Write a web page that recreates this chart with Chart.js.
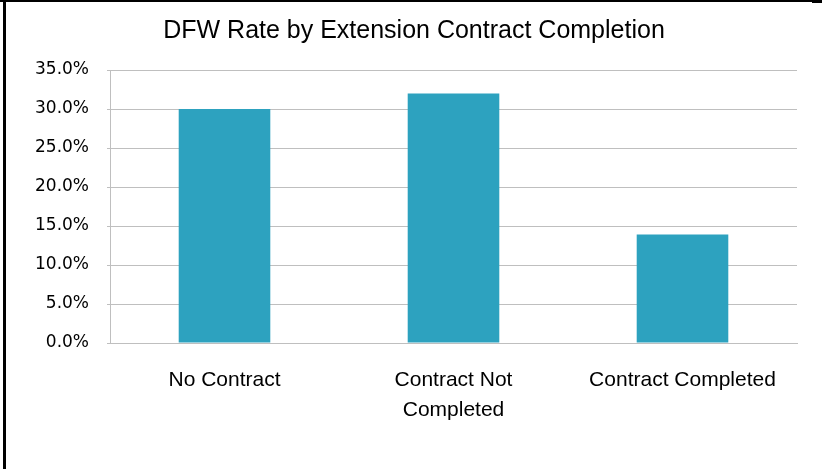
<!DOCTYPE html>
<html>
<head>
<meta charset="utf-8">
<script src="https://cdn.jsdelivr.net/npm/chart.js@4/dist/chart.umd.min.js"></script>
<style>
  html, body { margin: 0; padding: 0; background: #fff; }
  #wrap { position: relative; width: 822px; height: 469px; overflow: hidden; }
  #frameLeft { position: absolute; left: 3px; top: 0; width: 3px; height: 469px; background: #000; }
  #frameTop { position: absolute; left: 0; top: 0; width: 812px; height: 2px; background: #000; }
  #frameCorner { position: absolute; left: 812px; top: 0; width: 10px; height: 3px; background: #000; }
  canvas { position: absolute; left: 0; top: 0; }
</style>
</head>
<body>
<div id="wrap">
  <canvas id="chart" width="822" height="469"></canvas>
  <div id="frameLeft"></div>
  <div id="frameTop"></div>
  <div id="frameCorner"></div>
</div>
<script>
// DFW rate (percent) for each extension-contract group
const categories = [['No Contract'], ['Contract Not', 'Completed'], ['Contract Completed']];
const dfwRate = [30.0, 32.0, 13.9];
const yTickValues = [0, 5, 10, 15, 20, 25, 30, 35];

const gridColor = '#bfbfbf';
const barColor = '#2DA2BF';
const labelFont = "'Liberation Sans', Arial, sans-serif";

// Center the title over the whole canvas rather than the padded layout box
const centerTitle = {
  id: 'centerTitle',
  afterLayout(chart) {
    const tb = chart.titleBlock;
    if (tb) { tb.left = 6; tb.right = 822; }
  }
};

new Chart(document.getElementById('chart'), {
  type: 'bar',
  data: {
    labels: categories,
    datasets: [{
      data: dfwRate,
      backgroundColor: barColor,
      borderWidth: 0,
      barPercentage: 0.4,
      categoryPercentage: 1.0
    }]
  },
  plugins: [centerTitle],
  options: {
    responsive: false,
    animation: false,
    layout: { padding: { left: 0, right: 25, top: 0, bottom: 0 } },
    plugins: {
      legend: { display: false },
      tooltip: { enabled: false },
      title: {
        display: true,
        text: 'DFW Rate by Extension Contract Completion',
        color: '#000',
        font: { family: labelFont, size: 25, weight: 'normal', lineHeight: 1.2 },
        padding: { top: 16, bottom: 24 }
      }
    },
    scales: {
      x: {
        grid: { display: false, drawTicks: false },
        border: { display: true, color: gridColor, width: 1 },
        ticks: {
          color: '#000',
          padding: 22,
          maxRotation: 0,
          autoSkip: false,
          font: { family: labelFont, size: 21, lineHeight: 1.43 }
        },
        afterFit(scale) { scale.height = 126; }
      },
      y: {
        min: 0,
        max: 35,
        afterBuildTicks(scale) { scale.ticks = yTickValues.map(v => ({ value: v })); },
        grid: { color: gridColor, lineWidth: 1, tickLength: 3, drawTicks: true },
        border: { display: true, color: gridColor, width: 1 },
        ticks: {
          color: '#000',
          padding: 18,
          font: { family: "'DejaVu Sans', sans-serif", size: 17 },
          callback: v => v.toFixed(1) + '%'
        },
        afterFit(scale) { scale.width = 110; }
      }
    }
  }
});
</script>
</body>
</html>
